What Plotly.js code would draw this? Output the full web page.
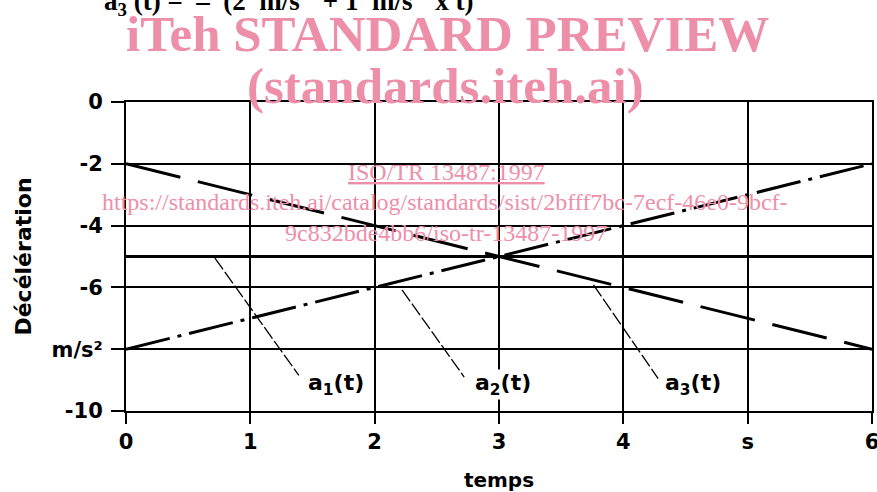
<!DOCTYPE html>
<html>
<head>
<meta charset="utf-8">
<script src="https://cdn.plot.ly/plotly-3.0.1.min.js"></script>
<style>html,body{margin:0;padding:0;background:#fff;}#chart{width:877px;height:492px;}</style>
</head>
<body>
<div id="chart"></div>
<script>
// ---- data ----
const timeS = [0, 6];                       // temps (s)
const a1 = [-8, -2];                        // a1(t) = -(8 - 1 t)
const a2 = [-5, -5];                        // a2(t) = -5
const a3 = [-2, -8];                        // a3(t) = -(2 + 1 t)
const xTickVals = [0, 1, 2, 3, 4, 5, 6];
const xTickText = ['0', '1', '2', '3', '4', 's', '6'];
const yTickVals = [0, -2, -4, -6, -8, -10];
const yTickText = ['0', '-2', '-4', '-6', 'm/s²', '-10'];
const seriesNames = ['a<sub>1</sub>(t)', 'a<sub>2</sub>(t)', 'a<sub>3</sub>(t)'];

// ---- layout helpers ----
const W = 877, H = 492, L = 126, R = 5, T = 102, B = 81;
const px = p => (p - L) / (W - L - R);
const py = p => (H - B - p) / (H - T - B);
const pink = 'rgb(238,143,170)';
const tickFont = {family: 'DejaVu Sans', size: 21, color: '#000', weight: 'bold'};
const sp = '\u00a0';

const traces = [
  {x: timeS, y: a1, mode: 'lines', name: 'a1', line: {color: '#000', width: 3, dash: '45px,8px,4px,8px'}},
  {x: timeS, y: a2, mode: 'lines', name: 'a2', line: {color: '#000', width: 3}},
  {x: timeS, y: a3, mode: 'lines', name: 'a3', line: {color: '#000', width: 3, dash: '56px,18px'}}
];

// leader lines: [x on curve, y on curve, x end, y end]
const leaders = [
  [0.715, -5.05, 1.39, -8.85],
  [2.22, -6.08, 2.72, -8.9],
  [3.76, -5.92, 4.28, -8.95]
];
const labelX = [1.69, 3.03, 4.56];
const labelY = -9.13;

const shapes = leaders.map(l => ({
  type: 'line', xref: 'x', yref: 'y', x0: l[0], y0: l[1], x1: l[2], y1: l[3],
  line: {color: '#000', width: 1.3, dash: '14px,3px'}
}));

const annotations = seriesNames.map((s, i) => ({
  x: labelX[i], y: labelY, xref: 'x', yref: 'y', text: s, showarrow: false,
  xanchor: 'center', yanchor: 'middle', bgcolor: i === 1 ? '#fff' : 'rgba(0,0,0,0)',
  borderpad: 0,
  font: {family: 'DejaVu Sans', size: 22, color: '#000', weight: 'bold'}
}));

const eq = 'a<sub>3</sub>' + sp + '(t)' + sp + '=' + sp + sp + '–' + sp + sp + '(2' + sp + sp + 'm/s<sup>2</sup>' +
           sp + sp + '+' + sp + '1' + sp + sp + 'm/s<sup>3</sup>' + sp + sp + 'x' + sp + 't)';

annotations.push(
  {xref: 'paper', yref: 'paper', x: px(102), y: py(1), xanchor: 'left', yanchor: 'middle', showarrow: false,
   text: eq, font: {family: 'Liberation Serif', size: 27, color: '#000', weight: 'bold'}},
  {xref: 'paper', yref: 'paper', x: px(447), y: py(34), xanchor: 'center', yanchor: 'middle', showarrow: false,
   text: 'iTeh STANDARD PREVIEW', font: {family: 'Liberation Serif', size: 51, color: pink, weight: 'bold'}},
  {xref: 'paper', yref: 'paper', x: px(445), y: py(86), xanchor: 'center', yanchor: 'middle', showarrow: false,
   text: '(standards.iteh.ai)', font: {family: 'Liberation Serif', size: 51, color: pink, weight: 'bold'}},
  {xref: 'paper', yref: 'paper', x: px(446), y: py(172), xanchor: 'center', yanchor: 'middle', showarrow: false,
   text: '<u>ISO/TR 13487:1997</u>', font: {family: 'Liberation Serif', size: 24, color: pink}},
  {xref: 'paper', yref: 'paper', x: px(445), y: py(202), xanchor: 'center', yanchor: 'middle', showarrow: false,
   text: 'https://standards.iteh.ai/catalog/standards/sist/2bfff7bc-7ecf-46e0-9bcf-',
   font: {family: 'Liberation Serif', size: 24, color: pink}},
  {xref: 'paper', yref: 'paper', x: px(446), y: py(233), xanchor: 'center', yanchor: 'middle', showarrow: false,
   text: '9c832bde4bb6/iso-tr-13487-1997', font: {family: 'Liberation Serif', size: 24, color: pink}}
);

const layout = {
  width: W, height: H,
  margin: {l: L, r: R, t: T, b: B, pad: 0},
  paper_bgcolor: '#fff', plot_bgcolor: '#fff',
  showlegend: false,
  xaxis: {
    range: [0, 6], tickvals: xTickVals, ticktext: xTickText,
    showgrid: true, gridcolor: '#000', gridwidth: 2, zeroline: false,
    showline: true, linecolor: '#000', linewidth: 2, mirror: true,
    ticks: 'outside', ticklen: 11, tickwidth: 2, tickcolor: '#000',
    tickfont: tickFont, ticklabelstandoff: 0, ticklabeloverflow: 'allow',
    title: {text: 'temps', standoff: 24, font: {family: 'DejaVu Sans', size: 20, color: '#000', weight: 'bold'}},
    fixedrange: true
  },
  yaxis: {
    range: [-10, 0], tickvals: yTickVals, ticktext: yTickText,
    showgrid: true, gridcolor: '#000', gridwidth: 2, zeroline: false,
    showline: true, linecolor: '#000', linewidth: 2, mirror: true,
    ticks: 'outside', ticklen: 13, tickwidth: 2, tickcolor: '#000',
    tickfont: tickFont, ticklabelstandoff: 4, ticklabeloverflow: 'allow',
    title: {text: 'Décélération', standoff: 14, font: {family: 'DejaVu Sans', size: 22, color: '#000', weight: 'bold'}},
    fixedrange: true
  },
  shapes: shapes,
  annotations: annotations
};

Plotly.newPlot('chart', traces, layout, {staticPlot: true, displayModeBar: false});
</script>
</body>
</html>
